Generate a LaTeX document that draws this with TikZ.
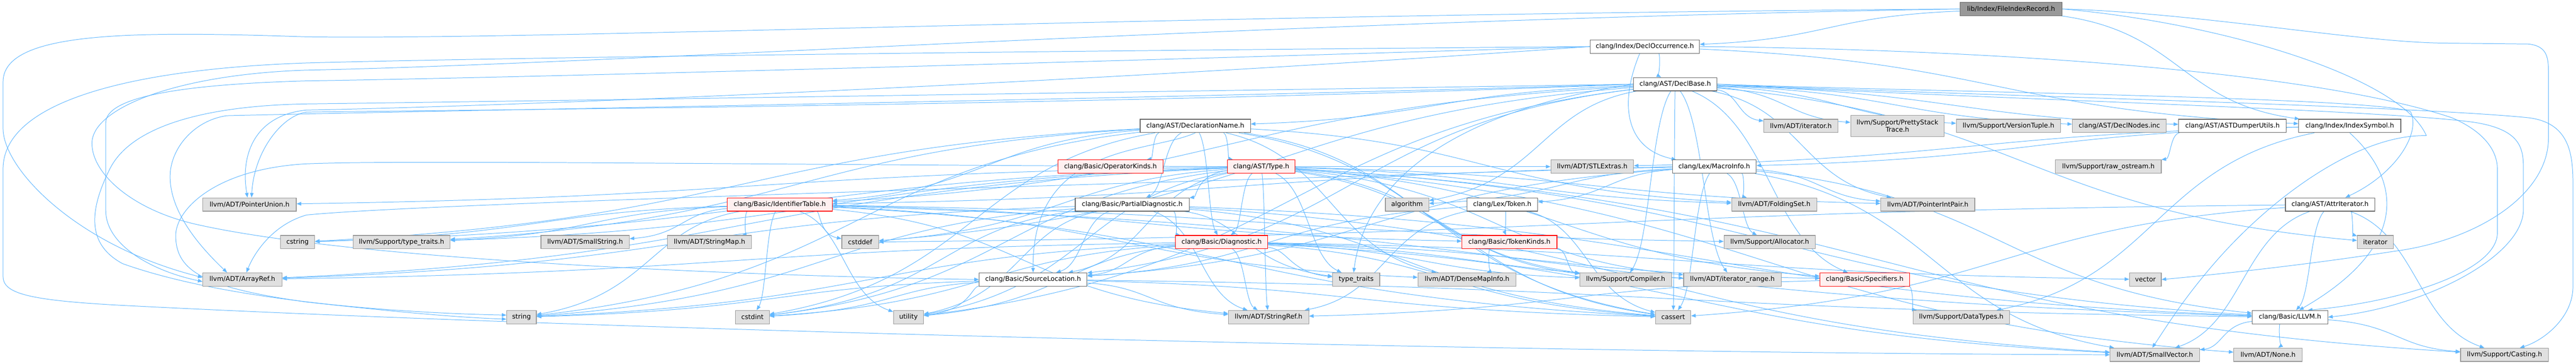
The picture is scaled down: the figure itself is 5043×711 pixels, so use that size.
\documentclass[tikz,border=0pt]{standalone}
\usepackage{fontspec}
\setmainfont{DejaVu Sans}
\usetikzlibrary{arrows.meta,calc}
\definecolor{ecol}{HTML}{63B8FF}
\definecolor{gfill}{HTML}{E0E0E0}
\definecolor{gdraw}{HTML}{999999}
\definecolor{wdraw}{HTML}{666666}
\definecolor{rfill}{HTML}{FFF0F0}
\definecolor{rdraw}{HTML}{FF0000}
\definecolor{tfill}{HTML}{999999}
\pgfdeclarelayer{background}
\pgfsetlayers{background,main}
\begin{document}
\begin{tikzpicture}[x=1pt,y=-1pt,
  nb/.style={rectangle, minimum height=26pt, inner sep=0pt, line width=1.2pt, font=\fontsize{12.8}{14.5}\selectfont, text=black},
  gn/.style={nb, fill=gfill, draw=gdraw},
  wn/.style={nb, fill=white, draw=wdraw},
  rn/.style={nb, fill=rfill, draw=rdraw},
  tn/.style={nb, fill=tfill, draw=wdraw},
  lnk/.style={draw=ecol, line width=1pt, -{Triangle[length=9pt,width=7pt]}}]
\useasboundingbox (0,0) rectangle (5043,711);
% row 0
\node[tn, minimum width=200pt] (fir) at (3937,17.5) {lib/Index/FileIndexRecord.h};
% row 1
\node[wn, minimum width=214pt] (docc) at (3220,91) {clang/Index/DeclOccurrence.h};
% row 2
\node[wn, minimum width=163pt] (dbase) at (3279.5,164.5) {clang/AST/DeclBase.h};
% row 3
\node[wn, minimum width=216pt] (dname) at (2340,246) {clang/AST/DeclarationName.h};
\node[gn, minimum width=145pt] (iterh) at (3525.5,246) {llvm/ADT/iterator.h};
\node[gn, minimum width=183pt, minimum height=41pt, align=center] (pst) at (3714.5,246) {llvm/Support/PrettyStack\\Trace.h};
\node[gn, minimum width=204pt] (vt) at (3932,246) {llvm/Support/VersionTuple.h};
\node[gn, minimum width=184pt] (dnodes) at (4149,246) {clang/AST/DeclNodes.inc};
\node[wn, minimum width=211pt] (adu) at (4370.5,246) {clang/AST/ASTDumperUtils.h};
\node[wn, minimum width=200pt] (isym) at (4600,246) {clang/Index/IndexSymbol.h};
% row 4
\node[rn, minimum width=206pt] (opk) at (2174,325.5) {clang/Basic/OperatorKinds.h};
\node[rn, minimum width=132pt] (type) at (2469,325.5) {clang/AST/Type.h};
\node[gn, minimum width=162pt] (stl) at (3117,325.5) {llvm/ADT/STLExtras.h};
\node[wn, minimum width=164pt] (macro) at (3356,325.5) {clang/Lex/MacroInfo.h};
\node[gn, minimum width=207pt] (raw) at (4127.5,325.5) {llvm/Support/raw\_ostream.h};
% row 5
\node[gn, minimum width=183pt] (punion) at (488.5,399.5) {llvm/ADT/PointerUnion.h};
\node[rn, minimum width=205pt] (idt) at (1526.5,399.5) {clang/Basic/IdentifierTable.h};
\node[wn, minimum width=223pt] (pdiag) at (2216.5,399.5) {clang/Basic/PartialDiagnostic.h};
\node[gn, minimum width=85pt] (algo) at (2754.5,399.5) {algorithm};
\node[wn, minimum width=138pt] (token) at (2941,399.5) {clang/Lex/Token.h};
\node[gn, minimum width=167pt] (fset) at (3473.5,399.5) {llvm/ADT/FoldingSet.h};
\node[gn, minimum width=184pt] (pip) at (3774,399.5) {llvm/ADT/PointerIntPair.h};
\node[wn, minimum width=175pt] (attr) at (4561.5,399.5) {clang/AST/AttrIterator.h};
% row 6
\node[gn, minimum width=67pt] (cstring) at (582.5,473) {cstring};
\node[gn, minimum width=190pt] (ltt) at (786,473) {llvm/Support/type\_traits.h};
\node[gn, minimum width=173pt] (sstr) at (1145.5,473) {llvm/ADT/SmallString.h};
\node[gn, minimum width=164pt] (smap) at (1389,473) {llvm/ADT/StringMap.h};
\node[gn, minimum width=72pt] (cstddef) at (1684,473) {cstddef};
\node[rn, minimum width=181pt] (diag) at (2391.5,473) {clang/Basic/Diagnostic.h};
\node[rn, minimum width=186pt] (tk) at (2955,473) {clang/Basic/TokenKinds.h};
\node[gn, minimum width=179pt] (alloc) at (3464.5,473) {llvm/Support/Allocator.h};
\node[gn, minimum width=70pt] (iter) at (4650,473) {iterator};
% row 7
\node[gn, minimum width=155pt] (aref) at (474.5,546) {llvm/ADT/ArrayRef.h};
\node[wn, minimum width=211pt] (sloc) at (2022.5,546) {clang/Basic/SourceLocation.h};
\node[gn, minimum width=92pt] (tt) at (2655,546) {type\_traits};
\node[gn, minimum width=192pt] (dmi) at (2872,546) {llvm/ADT/DenseMapInfo.h};
\node[gn, minimum width=179pt] (comp) at (3182.5,546) {llvm/Support/Compiler.h};
\node[gn, minimum width=191pt] (irange) at (3391.5,546) {llvm/ADT/iterator\_range.h};
\node[rn, minimum width=175pt] (spec) at (3650.5,546) {clang/Basic/Specifiers.h};
\node[gn, minimum width=62pt] (vector) at (4200,546) {vector};
% row 8
\node[gn, minimum width=58pt] (string) at (1021,619.5) {string};
\node[gn, minimum width=66pt] (cstdint) at (1473,619.5) {cstdint};
\node[gn, minimum width=59pt] (utility) at (1778.5,619.5) {utility};
\node[gn, minimum width=157pt] (sref) at (2483.5,619.5) {llvm/ADT/StringRef.h};
\node[gn, minimum width=69pt] (cassert) at (3275.5,619.5) {cassert};
\node[gn, minimum width=189pt] (dtypes) at (3839.5,619.5) {llvm/Support/DataTypes.h};
\node[wn, minimum width=148pt] (llvmh) at (4483,619.5) {clang/Basic/LLVM.h};
% row 9
\node[gn, minimum width=175pt] (svec) at (4218.5,693) {llvm/ADT/SmallVector.h};
\node[gn, minimum width=134pt] (none) at (4440,693) {llvm/ADT/None.h};
\node[gn, minimum width=172pt] (cast) at (4903,693) {llvm/Support/Casting.h};

\begin{pgfonlayer}{background}
% routed connectors (left loops)
\draw[lnk] (fir.west) .. controls (2200,30) and (1100,78) .. (600,72) .. controls (250,60) and (6,62) .. (6,160) -- (6,251) .. controls (6,330) and (150,480) .. ($(aref.west)+(0,-4)$);
\draw[lnk] (docc.west) .. controls (2000,100) and (1000,112) .. (600,123) .. controls (250,135) and (6,200) .. (6,330) -- (6,540) .. controls (6,575) and (60,588) .. (268,598) .. controls (1200,645) and (3000,690) .. (svec.west);
\draw[lnk] (fir.west) .. controls (2500,40) and (1200,125) .. (600,137) .. controls (350,145) and (180,210) .. (180,280) .. controls (180,340) and (260,410) .. (383,438) .. controls (700,510) and (1500,540) .. (sloc.west);
\draw[lnk] (docc.west) .. controls (2000,125) and (1000,152) .. (600,158) .. controls (350,165) and (207,190) .. (207,240) -- (207,411) .. controls (207,480) and (300,530) .. ($(aref.west)+(0,4)$);
\draw[lnk] (dbase.west) .. controls (2200,180) and (1000,198) .. (600,203) .. controls (420,206) and (260,240) .. (215,330) .. controls (170,420) and (175,480) .. (240,515) .. controls (450,590) and (800,612) .. ($(string.west)+(0,-4)$);
\draw[lnk] (dbase.west) .. controls (2200,195) and (900,215) .. (444,226) .. controls (380,235) and (333,290) .. (333,345) .. controls (333,420) and (400,490) .. ($(aref.north)+(-30,0)$);
\draw[lnk] (docc.west) .. controls (2000,170) and (900,210) .. (600,215) .. controls (500,225) and (470,300) .. ($(punion.north)+(-4,0)$);
\draw[lnk] (dbase.west) .. controls (2200,205) and (900,215) .. (600,219) .. controls (551,226) and (497,297) .. ($(punion.north)+(4,0)$);
\draw[lnk] (type.west) .. controls (1500,322) and (800,312) .. (600,320) .. controls (420,330) and (344,410) .. (344,460) .. controls (344,530) and (400,562) .. (600,590) .. controls (800,612) and (900,620) .. ($(string.west)+(0,4)$);
\draw[lnk] (macro.west) .. controls (1800,370) and (800,400) .. (600,420) .. controls (530,440) and (495,500) .. ($(aref.north)+(8,0)$);
% routed connectors (right loops)
\draw[lnk] (fir.east) .. controls (4300,25) and (4600,80) .. (4773,84) -- (4950,86) .. controls (4985,90) and (4989,110) .. (4989,140) -- (4989,270) .. controls (4989,380) and (4850,470) .. (4686,491) .. controls (4500,520) and (4300,540) .. (vector.east);
\draw[lnk] (fir.east) .. controls (4350,45) and (4700,150) .. (4750,265) .. controls (4620,262) and (4450,380) .. (4330,520) .. controls (4270,590) and (4240,640) .. ($(svec.north)+(-5,0)$);
\draw[lnk] (dbase.east) .. controls (3800,185) and (4700,205) .. (4950,230) .. controls (5030,240) and (5037,300) .. (5037,360) -- (5037,560) .. controls (5037,620) and (4980,665) .. ($(cast.north)+(30,0)$);
\draw[lnk] (dbase.east) .. controls (3800,190) and (4700,215) .. (4850,240) .. controls (4935,255) and (4940,290) .. (4940,330) -- (4940,409) .. controls (4940,500) and (4750,600) .. (llvmh.east);
\draw[lnk] (docc.east) .. controls (3800,95) and (4500,130) .. (4800,230) .. controls (4870,260) and (4889,300) .. (4889,330) -- (4889,455) .. controls (4889,530) and (4700,590) .. ($(llvmh.north)+(35,0)$);
\draw[lnk] (isym.south) .. controls (4700,350) and (4720,480) .. ($(llvmh.north)+(18,0)$);
\draw[lnk] (dbase.east) .. controls (3800,180) and (4650,190) .. (4719,218) .. controls (4740,260) and (4690,340) .. ($(attr.north)+(30,0)$);
% routed connectors (middle)
\draw[lnk] ($(docc.south)+(-10,0)$) .. controls (3170,200) and (3180,290) .. ($(macro.north west)+(8,0)$);
\draw[lnk] (dname.south) .. controls (2250,300) and (2020,280) .. (sloc.north);
\draw[lnk] (dbase.west) .. controls (2950,200) and (2680,300) .. ($(tt.north)+(-5,0)$);
% gently curved connectors
\foreach \ea/\eb in {fir/docc, fir/isym,
  docc/dbase, docc/isym,
  dbase/adu, dbase/dname, dbase/idt, dbase/sloc, dbase/spec, dbase/pip, dbase/iterh, dbase/irange, dbase/comp, dbase/pst, dbase/vt, dbase/algo, dbase/cassert, dbase/cstddef, dbase/iter, dbase/utility, dbase/dnodes,
  dname/type, dname/diag, dname/idt, dname/opk, dname/pdiag, dname/dmi, dname/fset, dname/comp, dname/ltt, dname/cassert, dname/cstdint, dname/cstring, dname/string,
  type/diag, type/llvmh, type/pdiag, type/sloc, type/spec, type/aref, type/fset, type/none, type/pip, type/punion, type/sref, type/irange, type/cast, type/comp, type/ltt, type/cassert, type/cstddef, type/cstdint, type/cstring, type/tt, type/utility, type/stl,
  pdiag/diag, pdiag/llvmh, pdiag/sloc, pdiag/aref, pdiag/svec, pdiag/sref, pdiag/cassert, pdiag/cstdint, pdiag/string, pdiag/tt, pdiag/utility,
  diag/sloc, diag/spec, diag/aref, diag/svec, diag/sref, diag/irange, diag/comp, diag/cassert, diag/cstdint, diag/string, diag/tt, diag/utility, diag/vector,
  sloc/llvmh, sloc/sref, sloc/cassert, sloc/cstdint, sloc/string, sloc/utility,
  idt/llvmh, idt/tk, idt/dmi, idt/sstr, idt/smap, idt/sref, idt/alloc, idt/ltt, idt/cassert, idt/cstddef, idt/cstdint, idt/cstring, idt/string, idt/utility,
  tk/dmi, tk/comp,
  token/sloc, token/tk, token/sref, token/cassert,
  macro/token, macro/idt, macro/llvmh, macro/sloc, macro/fset, macro/pip, macro/svec, macro/alloc, macro/algo, macro/cassert,
  isym/macro, isym/stl, isym/dtypes,
  adu/raw,
  attr/llvmh, attr/svec, attr/cast, attr/cassert, attr/cstddef, attr/iter,
  spec/sref, spec/dtypes,
  llvmh/none, llvmh/cast, llvmh/svec}
  \draw[lnk] let \p1=(\ea), \p2=(\eb) in (\ea) .. controls ({0.5*\x1+0.5*\x2},{0.8*\y1+0.2*\y2}) and ({0.5*\x1+0.5*\x2},{0.2*\y1+0.8*\y2}) .. (\eb);
\end{pgfonlayer}
\end{tikzpicture}
\end{document}
